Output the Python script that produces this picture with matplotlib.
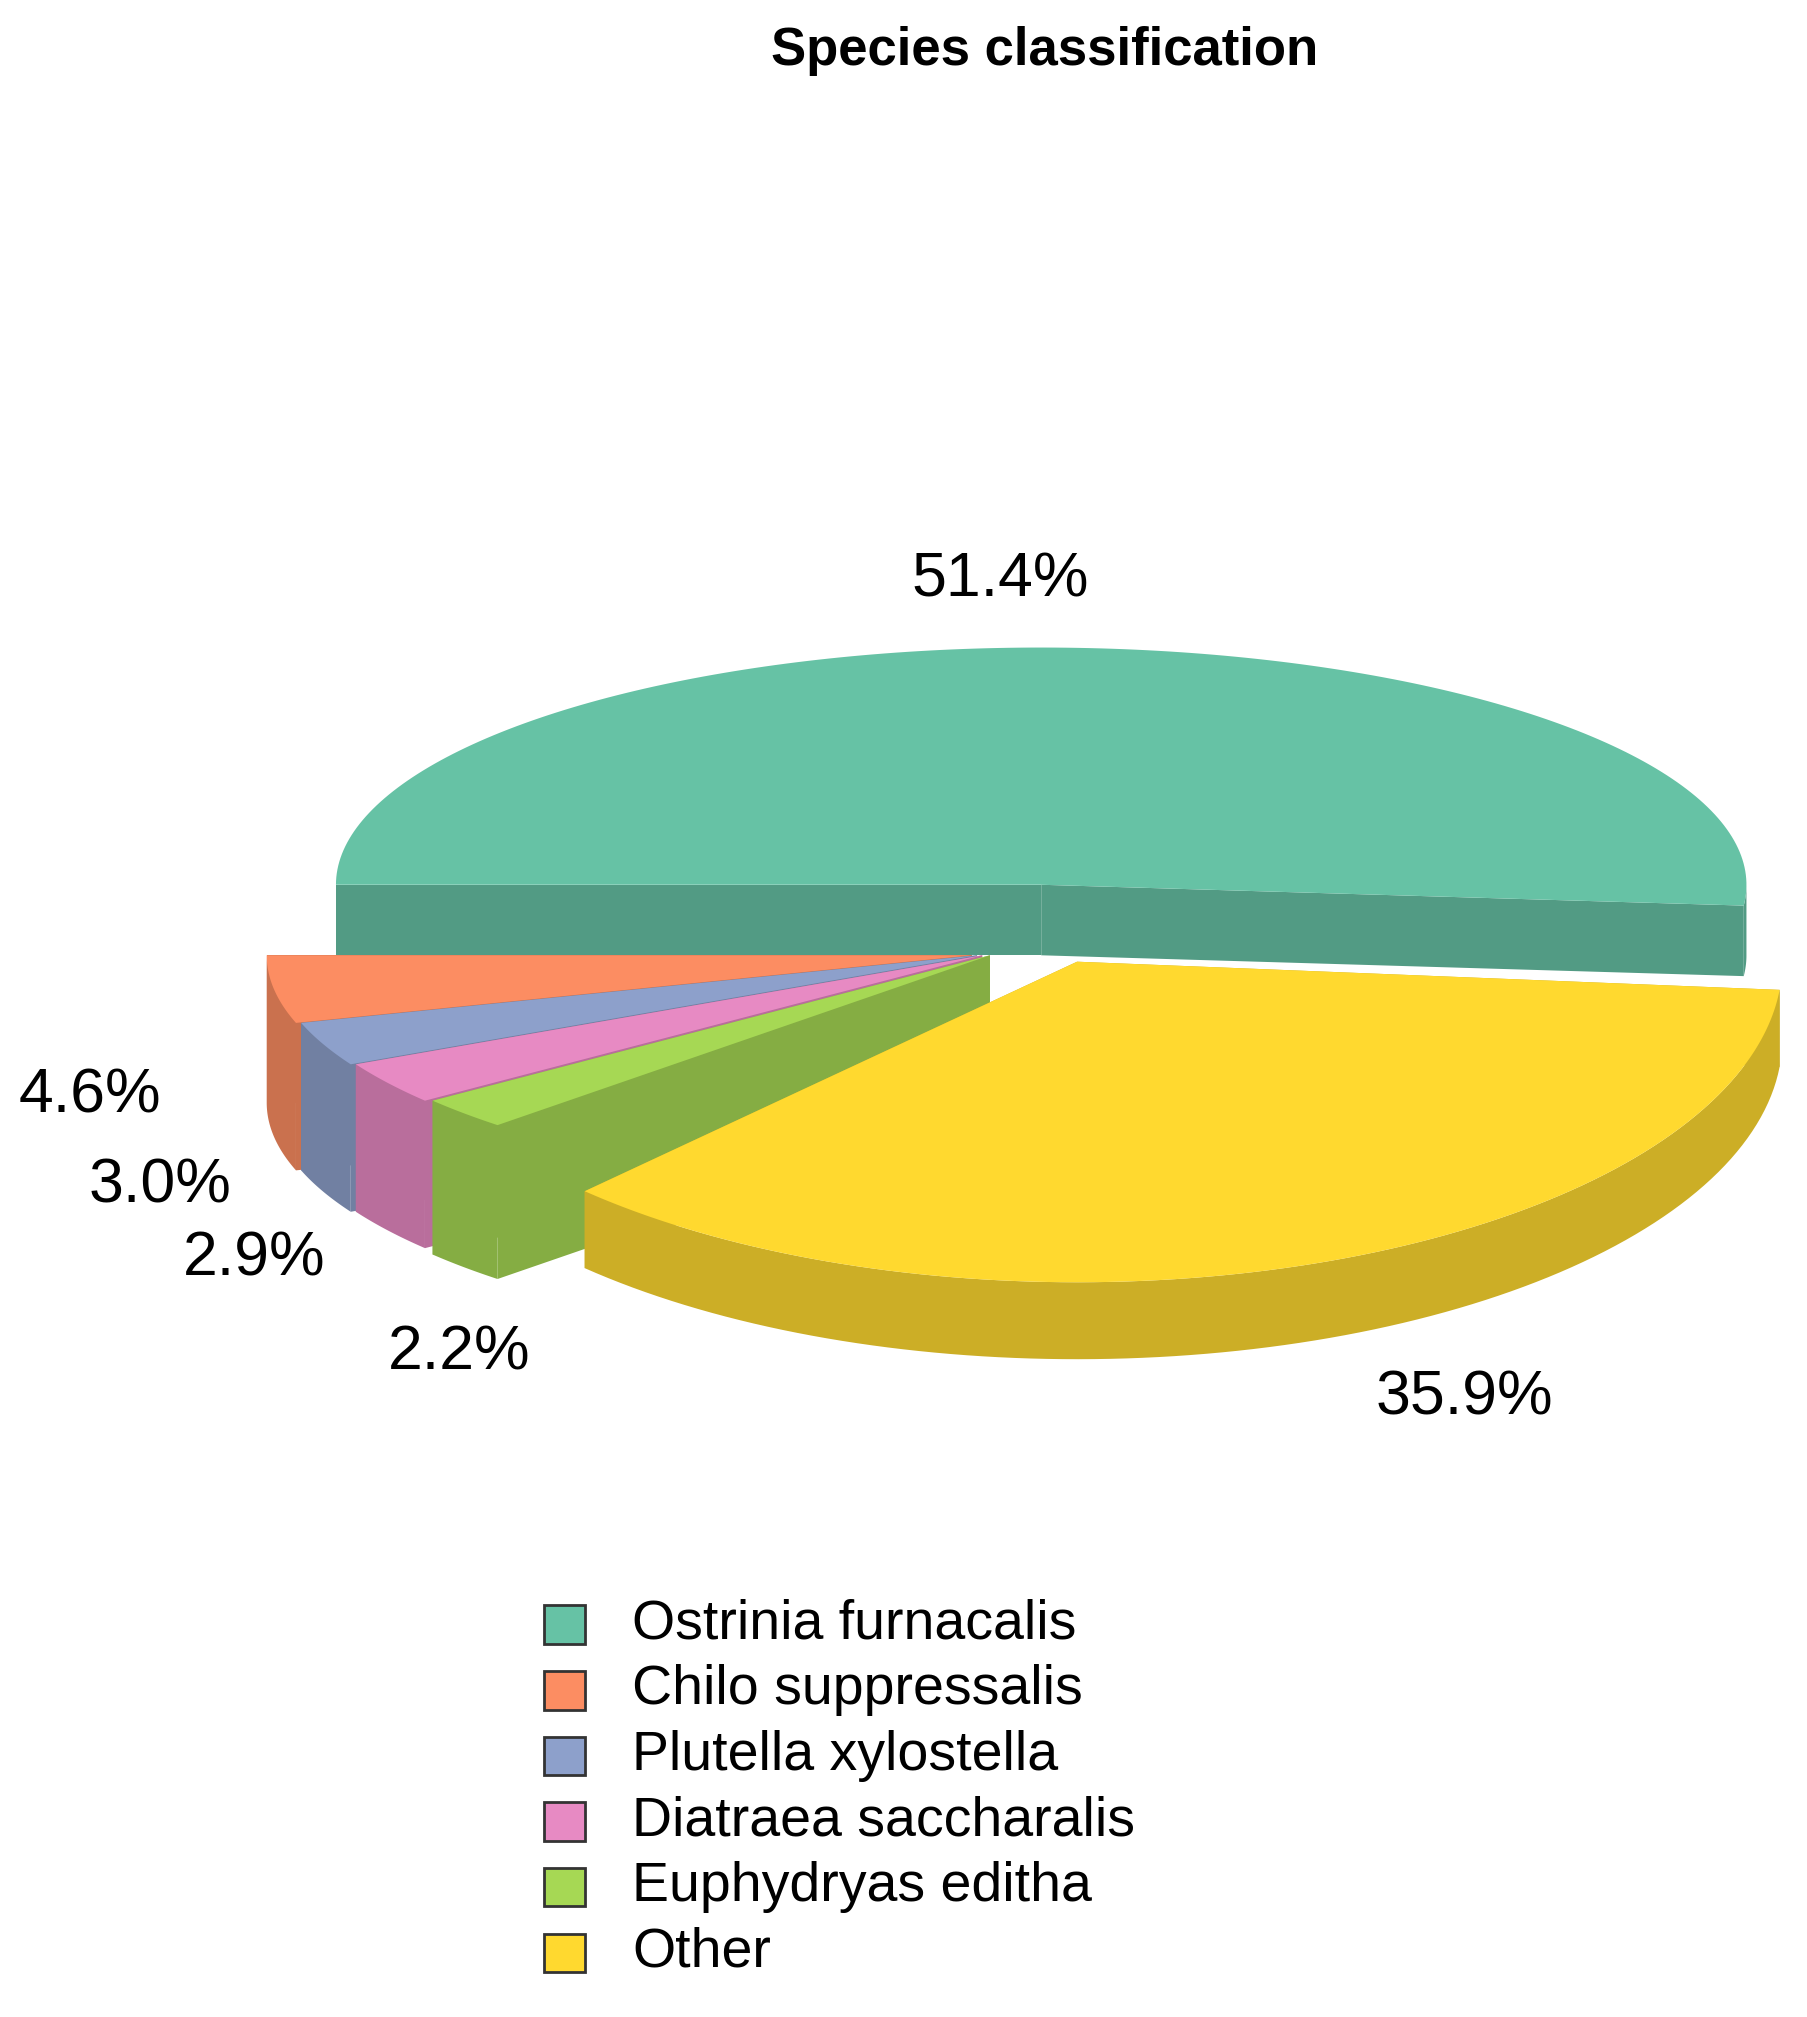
import numpy as np
import matplotlib.pyplot as plt
from matplotlib.patches import Polygon, Rectangle
import matplotlib.colors as mcolors

plt.rcParams['font.family'] = ['Liberation Sans', 'DejaVu Sans']

species = ['Ostrinia furnacalis', 'Chilo suppressalis', 'Plutella xylostella',
           'Diatraea saccharalis', 'Euphydryas editha', 'Other']
shares = [51.4, 4.6, 3.0, 2.9, 2.2, 35.9]
colors = ['#66c2a5', '#fc8d62', '#8da0cb', '#e78ac3', '#a6d854', '#ffd92f']

# geometry (display pixels on a 1410x1573 canvas): centre, radii, thickness per slice
rx = 550
centres = [(812, 690), (758, 745), (762, 745), (766, 745), (772, 745), (840, 750)]
ry_list = [185, 185, 185, 185, 185, 250]
depths = [55, 115, 115, 115, 120, 60]

fig = plt.figure(figsize=(18.08, 20.17), dpi=100)
ax = fig.add_axes([0, 0, 1, 1])
ax.set_xlim(0, 1410)
ax.set_ylim(1573, 0)
ax.axis('off')

# slice angle ranges, clockwise from 180 deg: big green, then yellow, then small ones
order = [0, 5, 4, 3, 2, 1]
start = 180.0
ranges = {}
for i in order:
    span = shares[i] / 100 * 360
    ranges[i] = (start - span, start)
    start -= span


def pt(ox, oy, ry, t, dz=0):
    r = np.radians(t)
    return ox + rx * np.cos(r), oy - ry * np.sin(r) + dz


def darker(c, f=0.8):
    return tuple(v * f for v in mcolors.to_rgb(c))


for i in [0, 1, 2, 3, 4, 5]:
    a0, a1 = ranges[i]
    ox, oy = centres[i]
    ry, depth = ry_list[i], depths[i]
    side = darker(colors[i])
    # radial faces
    for a in (a0, a1):
        ex, ey = pt(ox, oy, ry, a)
        ax.add_patch(Polygon([(ox, oy), (ex, ey), (ex, ey + depth), (ox, oy + depth)],
                             closed=True, fc=side, ec='none'))
    # outer wall on front half
    lo, hi = max(a0, -180), min(a1, 0)
    if hi > lo:
        ts = np.linspace(lo, hi, 100)
        top = [pt(ox, oy, ry, t) for t in ts]
        bot = [pt(ox, oy, ry, t, depth) for t in ts[::-1]]
        ax.add_patch(Polygon(top + bot, closed=True, fc=side, ec='none'))
    ts = np.linspace(a0, a1, 200)
    ax.add_patch(Polygon([(ox, oy)] + [pt(ox, oy, ry, t) for t in ts], closed=True,
                         fc=colors[i], ec='none'))

labels = [f'{s:.1f}%' for s in shares]
label_xy = [(780, 452), (70, 855), (125, 925), (198, 982), (358, 1055), (1142, 1090)]
for lab, (x, y) in zip(labels, label_xy):
    ax.text(x, y, lab, fontsize=45, ha='center', va='center')

ax.text(815, 40, 'Species classification', fontsize=38, fontweight='bold',
        ha='center', va='center')

for k, (name, c) in enumerate(zip(species, colors)):
    y = 1267 + k * 51.2
    ax.add_patch(Rectangle((424, y - 15), 32, 30, fc=c, ec='#333333', lw=2))
    ax.text(493, y, name, fontsize=40, ha='left', va='center')

fig.savefig('out.png', dpi=100)
